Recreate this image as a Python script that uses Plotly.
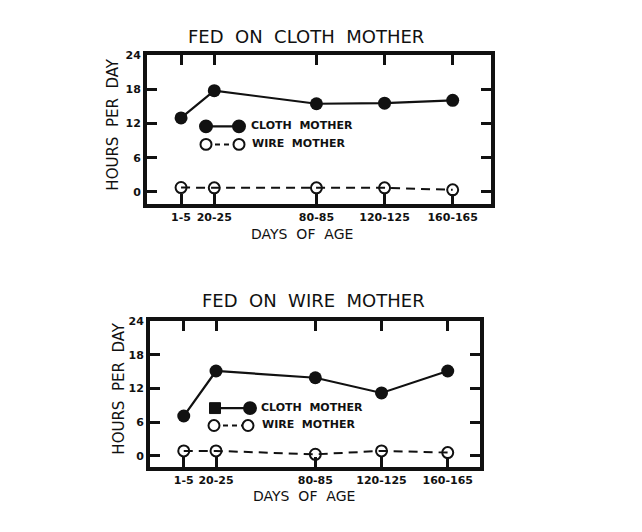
import plotly.graph_objects as go

W, H = 642, 532

# ---- data ----
age_labels = ["1-5", "20-25", "80-85", "120-125", "160-165"]
age_days = [3, 22.5, 82.5, 122.5, 162.5]

cloth_fed_cloth = [13.0, 17.8, 15.5, 15.6, 16.1]
cloth_fed_wire = [0.75, 0.7, 0.7, 0.7, 0.35]

wire_fed_cloth = [7.1, 15.1, 13.9, 11.2, 15.1]
wire_fed_wire = [0.9, 0.9, 0.3, 0.9, 0.6]

y_ticks = [0, 6, 12, 18, 24]

FONT = "DejaVu Sans"
INK = "#111111"


def px(x):
    return x / W


def py(y):
    return 1 - y / H


fig = go.Figure()

panels = [
    dict(xa="x", ya="y", cloth=cloth_fed_cloth, wire=cloth_fed_wire),
    dict(xa="x2", ya="y2", cloth=wire_fed_cloth, wire=wire_fed_wire),
]

for p in panels:
    fig.add_trace(go.Scatter(
        x=age_days, y=p["wire"], xaxis=p["xa"], yaxis=p["ya"],
        mode="lines+markers", showlegend=False,
        line=dict(color=INK, width=2, dash="9px,6px"),
        marker=dict(symbol="circle-open", size=11, color=INK, line=dict(width=2, color=INK)),
    ))
    fig.add_trace(go.Scatter(
        x=age_days, y=p["cloth"], xaxis=p["xa"], yaxis=p["ya"],
        mode="lines+markers", showlegend=False,
        line=dict(color=INK, width=2.2),
        marker=dict(symbol="circle", size=13, color=INK),
    ))

axis_common = dict(
    showgrid=False, zeroline=False, showline=True, linewidth=4, linecolor=INK,
    mirror="allticks", ticks="inside", ticklen=10, tickwidth=2.5, tickcolor=INK,
    tickfont=dict(family=FONT, size=11, color=INK, weight="bold"),
)

fig.update_layout(
    width=W, height=H, margin=dict(l=0, r=0, t=0, b=0),
    paper_bgcolor="white", plot_bgcolor="white",
    xaxis=dict(domain=[px(147), px(491)], range=[-17, 185], anchor="y",
               tickvals=age_days, ticktext=age_labels, **axis_common),
    yaxis=dict(domain=[py(200), py(50)], range=[-2.1, 24], anchor="x",
               tickvals=y_ticks, **axis_common),
    xaxis2=dict(domain=[px(150), px(479.5)], range=[-17.4, 181.7], anchor="y2",
                tickvals=age_days, ticktext=age_labels, **axis_common),
    yaxis2=dict(domain=[py(466.5), py(318.5)], range=[-2.0, 24], anchor="x2",
                tickvals=y_ticks, **axis_common),
)

ann = []
shapes = []


def text(x, y, s, size, angle=0, xanchor="center", weight="normal"):
    ann.append(dict(x=px(x), y=py(y), xref="paper", yref="paper", text=s,
                    showarrow=False, xanchor=xanchor, yanchor="middle", textangle=angle,
                    font=dict(family=FONT, size=size, color=INK, weight=weight)))


# titles and axis titles
text(306, 31, "FED  ON  CLOTH  MOTHER", 18)
text(313, 298, "FED  ON  WIRE  MOTHER", 18)
text(113, 120, "HOURS  PER  DAY", 15, angle=-90)
text(119, 387, "HOURS  PER  DAY", 15, angle=-90)
text(302, 231, "DAYS  OF  AGE", 14)
text(304, 496, "DAYS  OF  AGE", 14)


def circle(cx, cy, r, filled):
    shapes.append(dict(type="circle", xref="paper", yref="paper",
                       x0=px(cx - r), x1=px(cx + r), y0=py(cy + r), y1=py(cy - r),
                       line=dict(color=INK, width=2),
                       fillcolor=INK if filled else "white"))


def square(cx, cy, r):
    shapes.append(dict(type="rect", xref="paper", yref="paper",
                       x0=px(cx - r), x1=px(cx + r), y0=py(cy + r), y1=py(cy - r),
                       line=dict(color=INK, width=1), fillcolor=INK))


def seg(x0, x1, y, dash="solid", width=2.2):
    shapes.append(dict(type="line", xref="paper", yref="paper",
                       x0=px(x0), x1=px(x1), y0=py(y), y1=py(y),
                       line=dict(color=INK, width=width, dash=dash)))


# legend, top panel
seg(206, 239, 121.7)
circle(206, 121.7, 6, True)
circle(239, 121.7, 6, True)
text(249, 121, "CLOTH  MOTHER", 11, xanchor="left", weight="bold")
seg(206, 239, 140, dash="5px,4px", width=2)
circle(206, 140, 5.5, False)
circle(239, 140, 5.5, False)
text(250, 139.5, "WIRE  MOTHER", 11, xanchor="left", weight="bold")

# legend, bottom panel
seg(215, 250, 406.7)
square(215, 406.7, 5.5)
circle(250, 406.7, 6, True)
text(259, 406, "CLOTH  MOTHER", 11, xanchor="left", weight="bold")
seg(214, 248, 424.3, dash="5px,4px", width=2)
circle(214, 424.3, 5.5, False)
circle(248, 424.3, 5.5, False)
text(260, 423.5, "WIRE  MOTHER", 11, xanchor="left", weight="bold")

fig.update_layout(annotations=ann, shapes=shapes)

fig.write_html("out.html")
